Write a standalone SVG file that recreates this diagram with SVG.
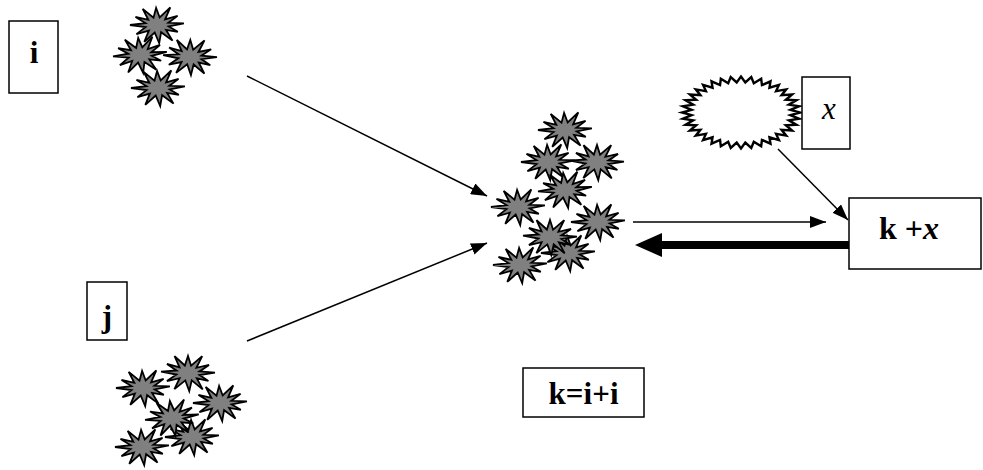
<svg xmlns="http://www.w3.org/2000/svg" width="983" height="470" viewBox="0 0 983 470">
<style>
.box{fill:#fff;stroke:#000;stroke-width:1.5}
.lbl{font-family:"Liberation Serif","Times New Roman",serif;font-weight:bold;font-size:31px;fill:#000}
.it{font-style:italic}
.star{fill:#808080;stroke:#000;stroke-width:1.8;stroke-linejoin:miter}
.ln{stroke:#000;stroke-width:1.5;fill:none}
</style>
<defs>
<polygon id="star" points="26.9,-1.7 11.7,1.4 20.8,6.8 9.1,4.9 15.5,15.6 4.1,7.2 2.2,18 -2.3,7.5 -12.7,16.8 -8.1,5.6 -20.6,9.1 -11.5,2.1 -27,0 -11.6,-1.9 -21.5,-8 -8.7,-5.2 -14.3,-16.1 -3.5,-7.3 -0.9,-17.1 2.7,-7.5 13.3,-17.6 8.1,-5.6 20.6,-9.1 11.4,-2.2"/>
<marker id="arr" markerUnits="userSpaceOnUse" markerWidth="16" markerHeight="12" refX="16" refY="6" orient="auto" viewBox="0 0 16 12">
<path d="M0,0 L16,6 L0,12 z" fill="#000"/>
</marker>
</defs>

<g id="box-i"><rect class="box" x="9" y="21" width="49" height="72"/><text class="lbl" x="34" y="63" text-anchor="middle">i</text></g>

<g id="cluster-i">
<use href="#star" class="star" transform="translate(157,25)"/>
<use href="#star" class="star" transform="translate(190,57) rotate(4)"/>
<use href="#star" class="star" transform="translate(140,55) rotate(-3)"/>
<use href="#star" class="star" transform="translate(158,88)"/>
</g>

<g id="box-j"><rect class="box" x="87" y="282" width="40" height="58"/><text class="lbl" x="107" y="327" text-anchor="middle">j</text></g>

<g id="cluster-j">
<use href="#star" class="star" transform="translate(143,388)"/>
<use href="#star" class="star" transform="translate(188,373) rotate(3)"/>
<use href="#star" class="star" transform="translate(220,403)"/>
<use href="#star" class="star" transform="translate(192,437)"/>
<use href="#star" class="star" transform="translate(172,418) rotate(-4)"/>
<use href="#star" class="star" transform="translate(142,447)"/>
</g>

<g id="cluster-k">
<use href="#star" class="star" transform="translate(565,130)"/>
<use href="#star" class="star" transform="translate(597,162) rotate(3)"/>
<use href="#star" class="star" transform="translate(548,162)"/>
<use href="#star" class="star" transform="translate(565,190) rotate(-3)"/>
<use href="#star" class="star" transform="translate(518,207)"/>
<use href="#star" class="star" transform="translate(598,222)"/>
<use href="#star" class="star" transform="translate(568,253)"/>
<use href="#star" class="star" transform="translate(550,237) rotate(3)"/>
<use href="#star" class="star" transform="translate(520,265)"/>
</g>

<g id="box-kii"><rect class="box" x="523" y="368" width="121" height="49"/><text class="lbl" x="583.5" y="404" text-anchor="middle" textLength="70" lengthAdjust="spacing">k=i+i</text></g>

<g id="ring-x">
<polygon transform="translate(741,112.5) scale(59,36)" fill="#fff" stroke="#000" stroke-width="2.4" vector-effect="non-scaling-stroke" stroke-linejoin="miter" points="1,0 .837,.073 .985,.174 .811,.217 .94,.342 .761,.355 .866,.5 .688,.482 .766,.643 .594,.594 .643,.766 .482,.688 .5,.866 .355,.761 .342,.94 .217,.811 .174,.985 .073,.837 0,1 -.073,.837 -.174,.985 -.217,.811 -.342,.94 -.355,.761 -.5,.866 -.482,.688 -.643,.766 -.594,.594 -.766,.643 -.688,.482 -.866,.5 -.761,.355 -.94,.342 -.811,.217 -.985,.174 -.837,.073 -1,0 -.837,-.073 -.985,-.174 -.811,-.217 -.94,-.342 -.761,-.355 -.866,-.5 -.688,-.482 -.766,-.643 -.594,-.594 -.643,-.766 -.482,-.688 -.5,-.866 -.355,-.761 -.342,-.94 -.217,-.811 -.174,-.985 -.073,-.837 0,-1 .073,-.837 .174,-.985 .217,-.811 .342,-.94 .355,-.761 .5,-.866 .482,-.688 .643,-.766 .594,-.594 .766,-.643 .688,-.482 .866,-.5 .761,-.355 .94,-.342 .811,-.217 .985,-.174 .837,-.073"/>
</g>

<g id="box-x"><rect class="box" x="802" y="77" width="48" height="72"/><text class="lbl it" x="829" y="119" text-anchor="middle" style="font-weight:normal">x</text></g>

<g id="box-kx"><rect class="box" x="849" y="198" width="132" height="71"/><text class="lbl" x="879" y="239" style="font-size:32px">k +<tspan class="it">x</tspan></text></g>

<g id="connectors">
<line class="ln" x1="247" y1="76" x2="487" y2="196" marker-end="url(#arr)"/>
<line class="ln" x1="247" y1="341" x2="487" y2="243" marker-end="url(#arr)"/>
<line class="ln" x1="778" y1="149" x2="848" y2="220" marker-end="url(#arr)"/>
<line class="ln" x1="633" y1="222" x2="826" y2="222" marker-end="url(#arr)"/>
<line stroke="#000" stroke-width="8" x1="849" y1="245" x2="655" y2="245"/>
<polygon points="635,245 662,233 662,257" fill="#000"/>
</g>
</svg>
